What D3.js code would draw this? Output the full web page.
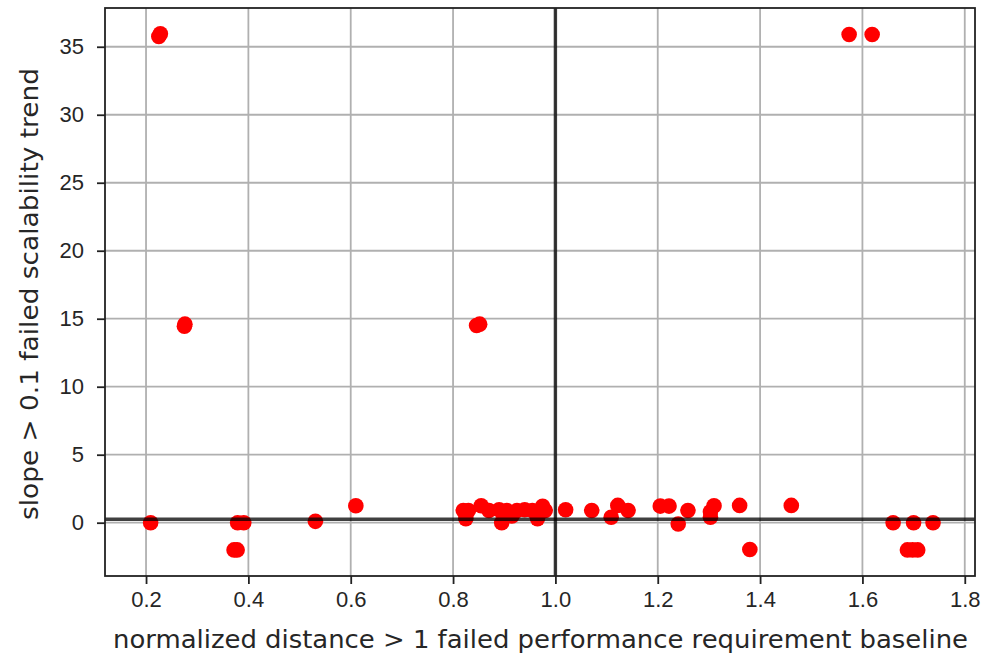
<!DOCTYPE html>
<html>
<head>
<meta charset="utf-8">
<script src="https://cdn.jsdelivr.net/npm/d3@7"></script>
<style>
    body { margin: 0; background: #fff; }
    svg { display: block; font-family: "DejaVu Sans", sans-serif; }
    .tick text { font-size: 22px; fill: #262626; }
    .axis-label { font-size: 24px; fill: #262626; }
</style>
</head>
<body>
<script>
// normalized distance (x) and slope (y) of every point
var xValues = [0.225, 0.228, 1.574, 1.619, 0.275, 0.276, 0.846, 0.852,
    0.209, 0.379, 0.391, 0.372, 0.378, 0.531, 0.610,
    0.820, 0.825, 0.830, 0.855, 0.870, 0.890, 0.895, 0.905, 0.915, 0.925, 0.940, 0.955, 0.965, 0.975, 0.980,
    1.020, 1.071, 1.109, 1.122, 1.142, 1.205, 1.222, 1.240, 1.259, 1.303, 1.303, 1.310,
    1.360, 1.380, 1.461, 1.660, 1.700, 1.738, 1.688, 1.698, 1.708]
var yValues = [35.75, 35.95, 35.9, 35.9, 14.45, 14.6, 14.5, 14.6,
    0.0, 0.0, 0.0, -2.0, -2.0, 0.1, 1.25,
    0.9, 0.3, 0.9, 1.25, 0.9, 0.95, 0.0, 0.9, 0.5, 0.9, 0.95, 0.9, 0.3, 1.2, 0.9,
    0.95, 0.9, 0.4, 1.27, 0.9, 1.22, 1.22, -0.1, 0.9, 0.4, 0.8, 1.25,
    1.27, -1.97, 1.27, 0.0, 0.0, 0.0, -2.0, -2.0, -2.0]

var xTicks = [0.2, 0.4, 0.6, 0.8, 1.0, 1.2, 1.4, 1.6, 1.8]
var yTicks = [0, 5, 10, 15, 20, 25, 30, 35]

// threshold lines
var refX = 1.0
var refY = 0.25

var xLabel = "normalized distance > 1 failed performance requirement baseline"
var yLabel = "slope > 0.1 failed scalability trend"

var width = 985
var height = 658
var margin = { left: 105, right: 10, top: 8, bottom: 82 }

var svg = d3.select("body")
    .append("svg")
    .attr("width", width)
    .attr("height", height)

var xScale = d3.scaleLinear()
    .domain([0.1198, 1.820])
    .range([margin.left, width - margin.right])

var yScale = d3.scaleLinear()
    .domain([-3.92, 37.85])
    .range([height - margin.bottom, margin.top])

var plotW = width - margin.left - margin.right
var plotH = height - margin.top - margin.bottom

//grid lines
svg.append("g")
    .selectAll("line")
    .data(xTicks)
    .enter()
    .append("line")
    .attr("x1", d => xScale(d)).attr("x2", d => xScale(d))
    .attr("y1", margin.top).attr("y2", height - margin.bottom)
    .attr("stroke", "#b0b0b0").attr("stroke-width", 1.8)

svg.append("g")
    .selectAll("line")
    .data(yTicks)
    .enter()
    .append("line")
    .attr("y1", d => yScale(d)).attr("y2", d => yScale(d))
    .attr("x1", margin.left).attr("x2", width - margin.right)
    .attr("stroke", "#b0b0b0").attr("stroke-width", 1.8)

//points
var points = xValues.map((x, i) => ({ x: x, y: yValues[i] }))
svg.append("g")
    .selectAll("circle")
    .data(points)
    .enter()
    .append("circle")
    .attr("cx", d => xScale(d.x))
    .attr("cy", d => yScale(d.y))
    .attr("r", 7.8)
    .attr("fill", "#ff0000")

//threshold lines on top of points
svg.append("line")
    .attr("x1", xScale(refX)).attr("x2", xScale(refX))
    .attr("y1", margin.top).attr("y2", height - margin.bottom)
    .attr("stroke", "#000").attr("stroke-opacity", 0.75).attr("stroke-width", 3.4)

svg.append("line")
    .attr("x1", margin.left).attr("x2", width - margin.right)
    .attr("y1", yScale(refY)).attr("y2", yScale(refY))
    .attr("stroke", "#000").attr("stroke-opacity", 0.75).attr("stroke-width", 3.4)

//axes
var xAxis = d3.axisBottom(xScale)
    .tickValues(xTicks)
    .tickFormat(d3.format(".1f"))
    .tickSize(8)
    .tickPadding(7)
var yAxis = d3.axisLeft(yScale)
    .tickValues(yTicks)
    .tickSize(8)
    .tickPadding(13)

var gx = svg.append("g")
    .attr("transform", "translate(0," + (height - margin.bottom) + ")")
    .call(xAxis)
var gy = svg.append("g")
    .attr("transform", "translate(" + margin.left + ",0)")
    .call(yAxis)

gx.select(".domain").remove()
gy.select(".domain").remove()
svg.selectAll(".tick line").attr("stroke", "#222").attr("stroke-width", 1.8)

//frame
svg.append("rect")
    .attr("x", margin.left).attr("y", margin.top)
    .attr("width", plotW).attr("height", plotH)
    .attr("fill", "none")
    .attr("stroke", "#222").attr("stroke-width", 1.8)

//labels
svg.append("text")
    .attr("class", "axis-label")
    .attr("text-anchor", "middle")
    .attr("x", (113 + 968) / 2)
    .attr("y", 648)
    .attr("textLength", 855)
    .attr("lengthAdjust", "spacingAndGlyphs")
    .text(xLabel)

svg.append("text")
    .attr("class", "axis-label")
    .attr("text-anchor", "middle")
    .attr("transform", "translate(38," + ((68 + 520) / 2) + ") rotate(-90)")
    .attr("textLength", 452)
    .attr("lengthAdjust", "spacingAndGlyphs")
    .text(yLabel)
</script>
</body>
</html>
